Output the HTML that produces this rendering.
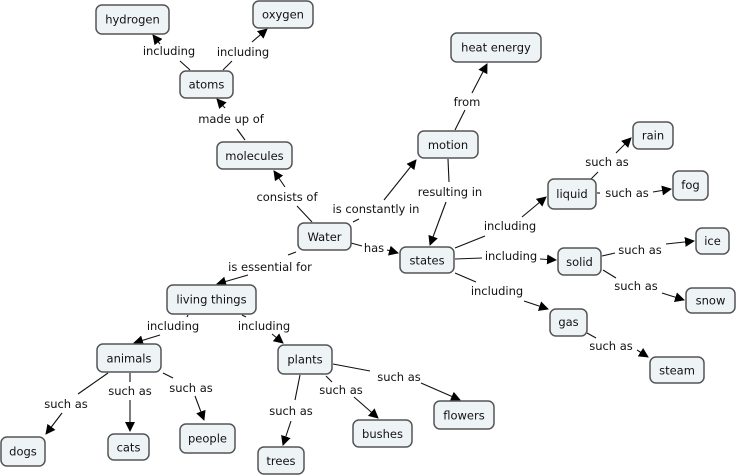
<!DOCTYPE html>
<html><head><meta charset="utf-8"><style>
html,body{margin:0;padding:0;background:#fff;}
svg{display:block;}
text{font-family:"DejaVu Sans","Liberation Sans",sans-serif;font-size:11.5px;fill:#111;}
.n rect{fill:#eef3f5;stroke:#555;stroke-width:1.5;}
line{stroke:#111;stroke-width:1.1;}
</style></head><body>
<svg width="736" height="476" viewBox="0 0 736 476" xmlns="http://www.w3.org/2000/svg">
<defs><marker id="a" markerWidth="10" markerHeight="10" refX="9" refY="5" orient="auto" markerUnits="userSpaceOnUse"><path d="M0,0 L10,5 L0,10 z" fill="#000"/></marker></defs>
<g>
<line x1="190" y1="70" x2="180" y2="61"/><line x1="160" y1="44" x2="153" y2="35" marker-end="url(#a)"/>
<line x1="223" y1="70" x2="232" y2="61"/><line x1="252" y1="42" x2="267" y2="29" marker-end="url(#a)"/>
<line x1="245" y1="140" x2="237" y2="129"/><line x1="225" y1="108" x2="217" y2="99" marker-end="url(#a)"/>
<line x1="312" y1="222" x2="297" y2="206"/><line x1="285" y1="187" x2="274" y2="171" marker-end="url(#a)"/>
<line x1="353" y1="222" x2="359" y2="219"/><line x1="384" y1="200" x2="416" y2="160" marker-end="url(#a)"/>
<line x1="455" y1="130" x2="465" y2="110"/><line x1="472" y1="93" x2="487" y2="64" marker-end="url(#a)"/>
<line x1="448" y1="159" x2="449" y2="182"/><line x1="446" y1="202" x2="430" y2="245" marker-end="url(#a)"/>
<line x1="351" y1="243" x2="362" y2="246"/><line x1="387" y1="250" x2="398" y2="253" marker-end="url(#a)"/>
<line x1="455" y1="248" x2="485" y2="236"/><line x1="522" y1="217" x2="546" y2="197" marker-end="url(#a)"/>
<line x1="590" y1="180" x2="598" y2="172"/><line x1="616" y1="153" x2="631" y2="138" marker-end="url(#a)"/>
<line x1="597" y1="193" x2="600" y2="193"/><line x1="653" y1="192" x2="671" y2="189" marker-end="url(#a)"/>
<line x1="455" y1="259" x2="482" y2="258"/><line x1="540" y1="259" x2="556" y2="260" marker-end="url(#a)"/>
<line x1="602" y1="256" x2="615" y2="253"/><line x1="666" y1="244" x2="694" y2="241" marker-end="url(#a)"/>
<line x1="603" y1="270" x2="616" y2="278"/><line x1="662" y1="293" x2="684" y2="300" marker-end="url(#a)"/>
<line x1="455" y1="273" x2="476" y2="282"/><line x1="524" y1="301" x2="548" y2="309" marker-end="url(#a)"/>
<line x1="587" y1="333" x2="596" y2="338"/><line x1="637" y1="350" x2="648" y2="357" marker-end="url(#a)"/>
<line x1="296" y1="252" x2="288" y2="255"/><line x1="248" y1="275" x2="217" y2="284" marker-end="url(#a)"/>
<line x1="188" y1="315" x2="187" y2="317"/><line x1="160" y1="335" x2="134" y2="343" marker-end="url(#a)"/>
<line x1="242" y1="315" x2="246" y2="317"/><line x1="272" y1="334" x2="283" y2="343" marker-end="url(#a)"/>
<line x1="108" y1="373" x2="78" y2="394"/><line x1="62" y1="413" x2="46" y2="434" marker-end="url(#a)"/>
<line x1="130" y1="373" x2="130" y2="382"/><line x1="130" y1="400" x2="130" y2="431" marker-end="url(#a)"/>
<line x1="163" y1="373" x2="173" y2="378"/><line x1="195" y1="396" x2="204" y2="420" marker-end="url(#a)"/>
<line x1="300" y1="375" x2="295" y2="400"/><line x1="291" y1="421" x2="283" y2="445" marker-end="url(#a)"/>
<line x1="326" y1="376" x2="332" y2="382"/><line x1="354" y1="397" x2="378" y2="418" marker-end="url(#a)"/>
<line x1="333" y1="364" x2="370" y2="371"/><line x1="421" y1="383" x2="460" y2="400" marker-end="url(#a)"/>
</g>
<g text-anchor="middle">
<text x="169" y="55">including</text>
<text x="243" y="56">including</text>
<text x="231" y="123">made up of</text>
<text x="287" y="201">consists of</text>
<text x="376" y="213">is constantly in</text>
<text x="467" y="106">from</text>
<text x="450" y="196">resulting in</text>
<text x="374" y="252">has</text>
<text x="510" y="230">including</text>
<text x="607" y="166">such as</text>
<text x="627" y="197">such as</text>
<text x="511" y="260">including</text>
<text x="640" y="254">such as</text>
<text x="636" y="290">such as</text>
<text x="497" y="295">including</text>
<text x="611" y="350">such as</text>
<text x="270" y="271">is essential for</text>
<text x="173" y="330">including</text>
<text x="264" y="330">including</text>
<text x="66" y="408">such as</text>
<text x="130" y="395">such as</text>
<text x="191" y="392">such as</text>
<text x="291" y="415">such as</text>
<text x="341" y="394">such as</text>
<text x="399" y="381">such as</text>
</g>
<g class="n" text-anchor="middle">
<rect x="96" y="5" width="73" height="29" rx="6"/><text x="132.5" y="23.5">hydrogen</text>
<rect x="253" y="1" width="60" height="27" rx="6"/><text x="283" y="18.5">oxygen</text>
<rect x="180" y="71" width="53" height="27" rx="6"/><text x="206.5" y="88.5">atoms</text>
<rect x="217" y="142" width="75" height="27" rx="6"/><text x="254.5" y="160">molecules</text>
<rect x="298" y="223" width="53" height="27" rx="6"/><text x="324.5" y="241">Water</text>
<rect x="451" y="33" width="90" height="29" rx="6"/><text x="496" y="51.5">heat energy</text>
<rect x="418" y="131" width="60" height="27" rx="6"/><text x="448" y="149">motion</text>
<rect x="548" y="179" width="48" height="30" rx="6"/><text x="572" y="198">liquid</text>
<rect x="633" y="122" width="40" height="27" rx="6"/><text x="653" y="139.5">rain</text>
<rect x="673" y="171" width="35" height="29" rx="6"/><text x="690.5" y="189">fog</text>
<rect x="400" y="247" width="54" height="26" rx="6"/><text x="427" y="264.5">states</text>
<rect x="558" y="248" width="43" height="27" rx="6"/><text x="579.5" y="266">solid</text>
<rect x="696" y="228" width="33" height="26" rx="6"/><text x="712.5" y="245">ice</text>
<rect x="686" y="288" width="49" height="25" rx="6"/><text x="710.5" y="304.5">snow</text>
<rect x="550" y="309" width="37" height="27" rx="6"/><text x="568.5" y="326">gas</text>
<rect x="650" y="357" width="54" height="26" rx="6"/><text x="677" y="374.5">steam</text>
<rect x="167" y="285" width="89" height="29" rx="6"/><text x="211.5" y="303.5">living things</text>
<rect x="97" y="344" width="64" height="28" rx="6"/><text x="129" y="362.5">animals</text>
<rect x="278" y="345" width="54" height="29" rx="6"/><text x="305" y="363.5">plants</text>
<rect x="1" y="437" width="44" height="29" rx="6"/><text x="23" y="455.5">dogs</text>
<rect x="108" y="434" width="41" height="26" rx="6"/><text x="128.5" y="451.5">cats</text>
<rect x="180" y="424" width="55" height="29" rx="6"/><text x="207.5" y="442.5">people</text>
<rect x="258" y="447" width="46" height="27" rx="6"/><text x="281" y="465">trees</text>
<rect x="353" y="420" width="59" height="27" rx="6"/><text x="382.5" y="438">bushes</text>
<rect x="434" y="401" width="60" height="28" rx="6"/><text x="464" y="419.5">flowers</text>
</g>
</svg>
</body></html>
